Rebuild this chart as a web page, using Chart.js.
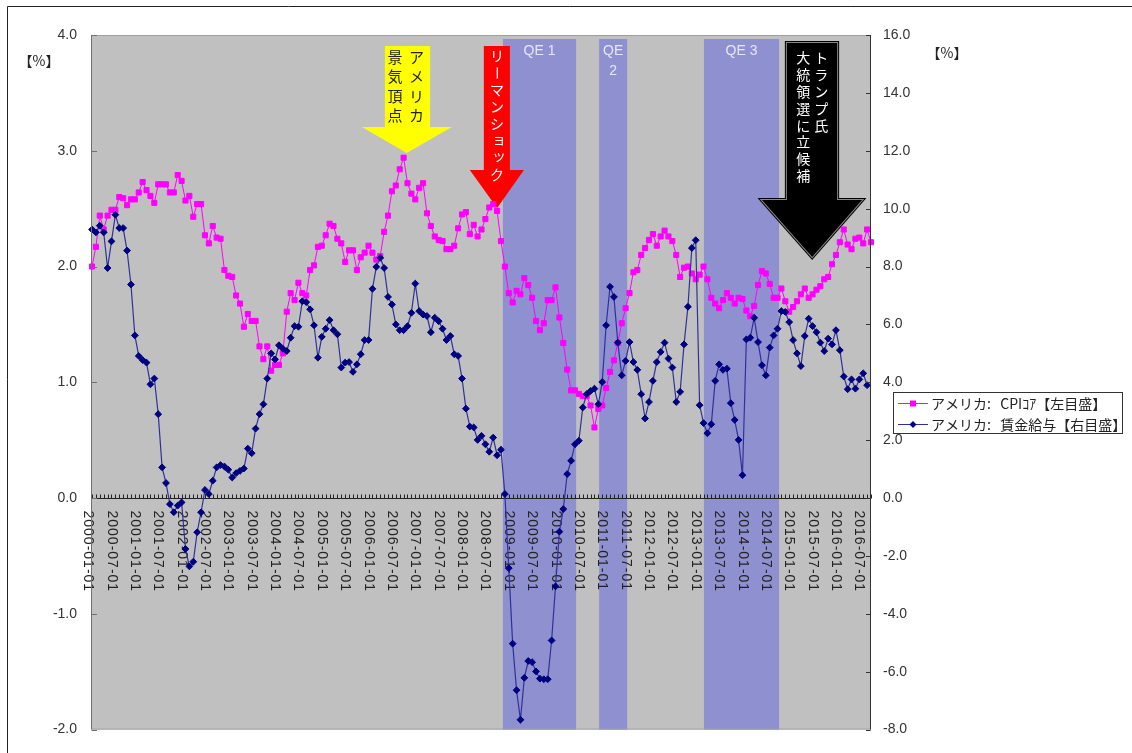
<!DOCTYPE html>
<html>
<head>
<meta charset="utf-8">
<script src="https://cdn.jsdelivr.net/npm/chart.js@4.4.1/dist/chart.umd.min.js"></script>
<style>
  html, body { margin: 0; padding: 0; background: #fff; }
  canvas { display: block; }
</style>
</head>
<body>
<canvas id="chart" width="1132" height="753"></canvas>
<script>
// monthly categories, 2000-01 .. 2016-09
const months = [];
for (let y = 2000; y <= 2016; y++) {
  for (let m = 1; m <= 12; m++) {
    if (y === 2016 && m > 9) break;
    months.push(y + '-' + String(m).padStart(2, '0') + '-01');
  }
}

// アメリカ: CPIコア (left axis, %)
const cpiCore = [
  2.00,2.17,2.44,2.32,2.44,2.49,2.49,2.60,2.59,2.53,2.58,2.58,
  2.64,2.73,2.66,2.61,2.55,2.71,2.71,2.71,2.64,2.64,2.79,2.74,
  2.57,2.61,2.43,2.54,2.54,2.27,2.20,2.35,2.25,2.24,1.97,1.92,
  1.91,1.75,1.68,1.48,1.59,1.53,1.53,1.31,1.20,1.31,1.10,1.15,
  1.15,1.25,1.61,1.77,1.71,1.86,1.77,1.75,1.97,2.01,2.17,2.18,
  2.27,2.37,2.35,2.24,2.20,2.04,2.14,2.14,1.97,2.08,2.12,2.18,
  2.12,2.06,2.09,2.30,2.44,2.65,2.70,2.84,2.94,2.72,2.63,2.58,
  2.68,2.72,2.46,2.35,2.26,2.23,2.22,2.15,2.15,2.18,2.33,2.45,
  2.47,2.28,2.36,2.26,2.32,2.41,2.51,2.54,2.48,2.22,2.00,1.77,
  1.69,1.79,1.76,1.90,1.84,1.73,1.53,1.45,1.51,1.71,1.71,1.82,
  1.56,1.34,1.11,0.93,0.93,0.90,0.88,0.88,0.80,0.61,0.77,0.80,
  0.95,1.09,1.19,1.34,1.51,1.64,1.77,1.95,1.97,2.10,2.16,2.23,
  2.28,2.18,2.26,2.31,2.26,2.22,2.10,1.91,1.99,2.00,1.94,1.89,
  1.93,2.00,1.89,1.73,1.68,1.64,1.71,1.77,1.73,1.68,1.73,1.72,
  1.62,1.57,1.66,1.84,1.96,1.94,1.85,1.73,1.73,1.81,1.70,1.61,
  1.65,1.70,1.76,1.81,1.73,1.76,1.80,1.83,1.89,1.91,2.02,2.10,
  2.21,2.32,2.19,2.15,2.24,2.25,2.20,2.32,2.21
];

// アメリカ: 賃金給与 (right axis, %)
const wages = [
  9.28,9.18,9.41,9.18,7.95,8.87,9.79,9.33,9.33,8.55,7.38,5.62,
  4.91,4.77,4.68,3.93,4.13,2.90,1.06,0.52,-0.21,-0.49,-0.26,-0.15,
  -1.76,-2.36,-2.20,-1.18,-0.49,0.28,0.14,0.60,1.06,1.14,1.09,0.98,
  0.71,0.86,0.94,1.02,1.71,1.55,2.40,2.90,3.24,4.13,5.00,4.79,
  5.28,5.16,5.08,5.54,5.94,5.92,6.80,6.77,6.52,5.97,4.85,5.57,
  5.85,6.15,5.80,5.66,4.51,4.68,4.70,4.36,4.62,4.97,5.46,5.46,
  7.23,7.99,8.30,7.95,6.95,6.69,6.00,5.80,5.80,5.94,6.40,7.41,
  6.46,6.34,6.29,5.73,6.23,6.11,5.85,5.46,5.60,4.97,4.91,4.13,
  3.09,2.47,2.44,2.01,2.15,1.86,1.60,2.09,1.48,1.67,0.14,-2.42,
  -5.03,-6.64,-7.66,-6.21,-5.63,-5.67,-5.99,-6.24,-6.26,-6.26,-4.92,-3.05,
  -1.16,-0.38,0.83,1.29,1.86,1.98,3.13,3.59,3.70,3.78,3.24,4.01,
  5.97,7.30,6.95,5.37,4.24,4.74,5.39,4.70,4.43,3.59,2.75,3.32,
  4.05,4.70,5.05,5.37,4.82,4.51,3.32,3.67,5.31,6.61,8.64,8.91,
  3.21,2.59,2.24,2.55,4.05,4.62,4.43,4.47,3.28,2.70,2.01,0.79,
  5.48,5.54,6.23,5.39,4.59,4.24,5.20,5.62,5.85,6.46,6.43,6.08,
  5.46,5.00,4.56,5.60,6.20,5.94,5.73,5.37,5.08,5.51,5.31,5.80,
  5.11,4.20,3.76,4.10,3.78,4.10,4.31,3.90,null
];

const leftTicks = [4, 3, 2, 1, 0, -1, -2];
const rightTicks = [16, 14, 12, 10, 8, 6, 4, 2, 0, -2, -4, -6, -8];

const seriesNames = ['アメリカ:   CPIｺｱ【左目盛】', 'アメリカ:   賃金給与【右目盛】'];

// QE periods, in month index units
const qeBands = [
  { from: 105.5, to: 124.3, label: ['QE 1'] },
  { from: 130.2, to: 137.4, label: ['QE', '2'] },
  { from: 157.1, to: 176.4, label: ['QE 3'] }
];

const NUM_FONT = '"Liberation Sans", Arial, sans-serif';
const JP_FONT = '"Noto Sans CJK JP", "Noto Sans", sans-serif';

// vertical japanese text, one char per row
function vText(ctx, str, x, y0, step) {
  [...str].forEach((ch, k) => {
    const y = y0 + k * step;
    if (ch === 'ー') {
      ctx.save();
      ctx.translate(x, y);
      ctx.rotate(Math.PI / 2);
      ctx.fillText(ch, 0, 0);
      ctx.restore();
    } else if ('ョッャュ'.includes(ch)) {
      ctx.fillText(ch, x + 2, y - 2);
    } else {
      ctx.fillText(ch, x, y);
    }
  });
}

function arrowPath(ctx, xs, a) {
  const sl = xs(a.shaftL), sr = xs(a.shaftR), hl = xs(a.headL), hr = xs(a.headR), tx = xs(a.tip);
  ctx.beginPath();
  ctx.moveTo(sl, a.top);
  ctx.lineTo(sr, a.top);
  ctx.lineTo(sr, a.base);
  ctx.lineTo(hr, a.base);
  ctx.lineTo(tx, a.tipY);
  ctx.lineTo(hl, a.base);
  ctx.lineTo(sl, a.base);
  ctx.closePath();
}

const decorations = {
  id: 'decorations',
  beforeDraw(chart) {
    const { ctx, chartArea: a } = chart;
    const x = chart.scales.x;
    ctx.save();
    ctx.fillStyle = '#fff';
    ctx.fillRect(0, 0, chart.width, chart.height);
    // outer frame
    ctx.strokeStyle = '#222';
    ctx.lineWidth = 1;
    ctx.beginPath();
    ctx.moveTo(7.5, chart.height);
    ctx.lineTo(7.5, 6.5);
    ctx.lineTo(chart.width, 6.5);
    ctx.stroke();
    // plot background
    ctx.fillStyle = '#c0c0c0';
    ctx.fillRect(a.left, a.top, a.width, a.height);
    // QE bands
    qeBands.forEach(b => {
      const x0 = x.getPixelForValue(b.from), x1 = x.getPixelForValue(b.to);
      ctx.fillStyle = '#8f90d0';
      ctx.fillRect(x0, a.top + 4, x1 - x0, a.bottom - a.top - 4);
      ctx.fillStyle = '#e6e6f6';
      ctx.font = '14px ' + NUM_FONT;
      ctx.textAlign = 'center';
      ctx.textBaseline = 'middle';
      b.label.forEach((t, k) => ctx.fillText(t, (x0 + x1) / 2, a.top + 16 + k * 20));
    });
    ctx.restore();
  },
  beforeDatasetsDraw(chart) {
    const { ctx, chartArea: a } = chart;
    const x = chart.scales.x, y = chart.scales.y;
    const xs = v => x.getPixelForValue(v);
    const y0 = Math.round(y.getPixelForValue(0)) + 0.5;
    ctx.save();

    // x axis along zero of the left scale
    ctx.strokeStyle = '#222';
    ctx.lineWidth = 1;
    ctx.beginPath();
    ctx.moveTo(a.left, y0);
    ctx.lineTo(a.right, y0);
    for (let i = 0; i < months.length; i++) {
      const px = Math.round(xs(i)) + 0.5;
      ctx.moveTo(px, y0);
      ctx.lineTo(px, y0 - 4);
    }
    ctx.stroke();

    // rotated date labels every six months
    ctx.fillStyle = '#222';
    ctx.font = '14px ' + NUM_FONT;
    if ('letterSpacing' in ctx) ctx.letterSpacing = '1px';
    ctx.textAlign = 'left';
    ctx.textBaseline = 'middle';
    months.forEach((m, i) => {
      if (!(m.slice(5, 7) === '01' || m.slice(5, 7) === '07')) return;
      ctx.save();
      ctx.translate(xs(i) - 4, y0 + 12);
      ctx.rotate(Math.PI / 2);
      ctx.fillText(m, 0, 0);
      ctx.restore();
    });
    if ('letterSpacing' in ctx) ctx.letterSpacing = '0px';

    // yellow arrow
    arrowPath(ctx, xs, { shaftL: 75.2, shaftR: 86.8, headL: 69.3, headR: 92.4, tip: 80.8, top: 46, base: 127, tipY: 153 });
    ctx.fillStyle = '#ffff00';
    ctx.fill();
    ctx.fillStyle = '#222';
    ctx.font = '15px ' + JP_FONT;
    ctx.textAlign = 'center';
    ctx.textBaseline = 'middle';
    vText(ctx, 'アメリカ', xs(83.3), 57, 19.5);
    vText(ctx, '景気頂点', xs(77.8), 57, 19.5);

    // red arrow
    arrowPath(ctx, xs, { shaftL: 100.6, shaftR: 107.3, headL: 97.0, headR: 110.9, tip: 104.0, top: 46, base: 170, tipY: 208 });
    ctx.fillStyle = '#ff0000';
    ctx.fill();
    ctx.fillStyle = '#fff';
    ctx.font = '14px ' + JP_FONT;
    vText(ctx, 'リーマンショック', xs(104.0), 56, 16.9);

    // black arrow
    arrowPath(ctx, xs, { shaftL: 178.4, shaftR: 191.3, headL: 172.0, headR: 197.7, tip: 184.9, top: 43, base: 200, tipY: 257 });
    ctx.strokeStyle = '#000';
    ctx.lineWidth = 4;
    ctx.stroke();
    ctx.strokeStyle = '#8a8a8a';
    ctx.lineWidth = 2;
    ctx.stroke();
    ctx.fillStyle = '#000';
    ctx.fill();
    ctx.fillStyle = '#fff';
    ctx.font = '14px ' + JP_FONT;
    vText(ctx, 'トランプ氏', xs(187.2), 58, 16.8);
    vText(ctx, '大統領選に立候補', xs(182.6), 58, 16.8);

    ctx.restore();
  },
  afterDraw(chart) {
    const { ctx, chartArea: a } = chart;
    const y = chart.scales.y, y2 = chart.scales.y2;
    ctx.save();

    // plot frame and axis lines
    ctx.lineWidth = 1;
    ctx.strokeStyle = '#a0a0a0';
    ctx.beginPath();
    ctx.moveTo(a.left, a.top + 0.5);
    ctx.lineTo(a.right, a.top + 0.5);
    ctx.moveTo(a.left, a.bottom - 0.5);
    ctx.lineTo(a.right, a.bottom - 0.5);
    ctx.stroke();
    ctx.strokeStyle = '#707070';
    ctx.beginPath();
    ctx.moveTo(a.left - 0.5, a.top);
    ctx.lineTo(a.left - 0.5, a.bottom);
    leftTicks.forEach(v => {
      const py = Math.round(y.getPixelForValue(v)) + 0.5;
      ctx.moveTo(a.left - 0.5, py);
      ctx.lineTo(a.left + 5, py);
    });
    ctx.stroke();
    ctx.strokeStyle = '#333';
    ctx.beginPath();
    ctx.moveTo(a.right - 0.5, a.top);
    ctx.lineTo(a.right - 0.5, a.bottom);
    rightTicks.forEach(v => {
      const py = Math.round(y2.getPixelForValue(v)) + 0.5;
      ctx.moveTo(a.right - 0.5, py);
      ctx.lineTo(a.right - 5, py);
    });
    ctx.stroke();

    // unit labels
    ctx.fillStyle = '#222';
    ctx.font = '14px ' + JP_FONT;
    ctx.textAlign = 'center';
    ctx.textBaseline = 'middle';
    ctx.fillText('【%】', 39, 61);
    ctx.fillText('【%】', 947, 53);

    // legend
    const lx = 893, ly = 392, lw = 229, lh = 41;
    ctx.fillStyle = '#fff';
    ctx.fillRect(lx, ly, lw, lh);
    ctx.strokeStyle = '#333';
    ctx.strokeRect(lx + 0.5, ly + 0.5, lw, lh);
    chart.data.datasets.forEach((ds, k) => {
      const ry = ly + 11.5 + k * 21;
      ctx.strokeStyle = ds.borderColor;
      ctx.lineWidth = 1;
      ctx.beginPath();
      ctx.moveTo(lx + 5, ry);
      ctx.lineTo(lx + 35, ry);
      ctx.stroke();
      ctx.fillStyle = ds.pointBackgroundColor;
      ctx.beginPath();
      if (ds.pointStyle === 'rect') {
        ctx.rect(lx + 17, ry - 3, 6, 6);
      } else {
        ctx.moveTo(lx + 20, ry - 3.5);
        ctx.lineTo(lx + 23.5, ry);
        ctx.lineTo(lx + 20, ry + 3.5);
        ctx.lineTo(lx + 16.5, ry);
        ctx.closePath();
      }
      ctx.fill();
      ctx.fillStyle = '#222';
      ctx.font = '14px ' + JP_FONT;
      ctx.textAlign = 'left';
      ctx.fillText(seriesNames[k], lx + 38, ry);
    });

    ctx.restore();
  }
};

new Chart(document.getElementById('chart'), {
  type: 'line',
  data: {
    labels: months,
    datasets: [
      {
        label: seriesNames[0],
        data: cpiCore,
        yAxisID: 'y',
        borderColor: '#ff00ff',
        borderWidth: 1,
        pointStyle: 'rect',
        pointRadius: 3.6,
        pointBackgroundColor: '#ff00ff',
        pointBorderColor: '#ff00ff',
        pointBorderWidth: 1,
        tension: 0,
        order: 2
      },
      {
        label: seriesNames[1],
        data: wages,
        yAxisID: 'y2',
        borderColor: '#30309a',
        borderWidth: 1.2,
        pointStyle: 'rectRot',
        pointRadius: 3.4,
        pointBackgroundColor: '#000080',
        pointBorderColor: '#000080',
        pointBorderWidth: 1,
        tension: 0,
        order: 1
      }
    ]
  },
  options: {
    responsive: false,
    animation: false,
    layout: { padding: { top: 35, bottom: 22, left: 0, right: 0 } },
    plugins: {
      legend: { display: false },
      tooltip: { enabled: false }
    },
    scales: {
      x: { type: 'category', display: false, offset: false },
      y: {
        position: 'left',
        min: -2, max: 4,
        afterBuildTicks: s => { s.ticks = leftTicks.map(v => ({ value: v })); },
        afterFit: s => { s.width = 92; },
        ticks: {
          callback: v => v.toFixed(1),
          color: '#333',
          padding: 15,
          font: { size: 14, family: NUM_FONT }
        },
        grid: { display: false, drawTicks: false },
        border: { display: false }
      },
      y2: {
        position: 'right',
        min: -8, max: 16,
        afterBuildTicks: s => { s.ticks = rightTicks.map(v => ({ value: v })); },
        afterFit: s => { s.width = 261; },
        ticks: {
          callback: v => v.toFixed(1),
          color: '#333',
          padding: 12,
          font: { size: 14, family: NUM_FONT }
        },
        grid: { display: false, drawTicks: false },
        border: { display: false }
      }
    }
  },
  plugins: [decorations]
});
</script>
</body>
</html>
